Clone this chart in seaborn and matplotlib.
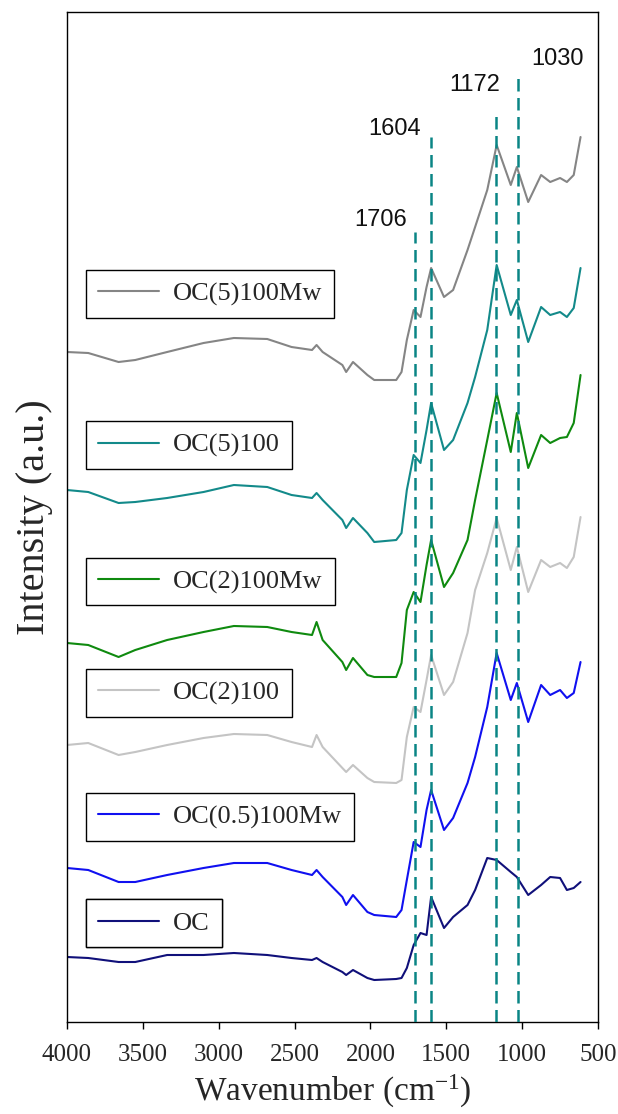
import numpy as np
import pandas as pd
import seaborn as sns
import matplotlib
matplotlib.use("Agg")
import matplotlib.pyplot as plt

# ---------------- data ----------------
wavenumber = [4000, 3860, 3660, 3550, 3340, 3100, 2900, 2680, 2520, 2385, 2355, 2315,
              2185, 2160, 2115, 2020, 1975, 1830, 1795, 1760, 1715, 1670, 1630, 1600,
              1515, 1455, 1360, 1310, 1230, 1168, 1075, 1035, 960, 875, 815, 750,
              705, 660, 615]

oc5_100mw = [6.70, 6.69, 6.60, 6.62, 6.70, 6.79, 6.84, 6.83, 6.75, 6.72, 6.77, 6.70,
             6.57, 6.50, 6.60, 6.47, 6.42, 6.42, 6.50, 6.82, 7.12, 7.05, 7.35, 7.54,
             7.25, 7.32, 7.72, 7.95, 8.32, 8.77, 8.37, 8.55, 8.20, 8.47, 8.40, 8.44,
             8.40, 8.47, 8.85]

oc5_100 = [5.32, 5.30, 5.19, 5.20, 5.24, 5.30, 5.37, 5.35, 5.27, 5.24, 5.29, 5.22,
           5.02, 4.94, 5.04, 4.89, 4.80, 4.82, 4.89, 5.32, 5.67, 5.59, 5.92, 6.19,
           5.72, 5.82, 6.19, 6.45, 6.92, 7.57, 7.07, 7.22, 6.80, 7.15, 7.07, 7.10,
           7.05, 7.14, 7.54]

oc2_100mw = [3.79, 3.77, 3.65, 3.72, 3.82, 3.90, 3.96, 3.95, 3.90, 3.87, 4.00, 3.82,
             3.60, 3.52, 3.64, 3.47, 3.45, 3.45, 3.59, 4.12, 4.30, 4.20, 4.57, 4.82,
             4.35, 4.49, 4.82, 5.22, 5.82, 6.29, 5.70, 6.09, 5.54, 5.87, 5.79, 5.84,
             5.85, 5.99, 6.47]

oc2_100 = [2.77, 2.79, 2.67, 2.70, 2.77, 2.84, 2.88, 2.87, 2.80, 2.75, 2.87, 2.75,
           2.54, 2.50, 2.57, 2.44, 2.40, 2.39, 2.42, 2.85, 3.15, 3.10, 3.42, 3.67,
           3.27, 3.40, 3.89, 4.32, 4.69, 5.04, 4.52, 4.75, 4.30, 4.62, 4.55, 4.59,
           4.54, 4.65, 5.05]

oc05_100mw = [1.54, 1.52, 1.40, 1.40, 1.47, 1.54, 1.59, 1.59, 1.52, 1.47, 1.52, 1.45,
              1.25, 1.17, 1.27, 1.10, 1.07, 1.05, 1.12, 1.42, 1.80, 1.75, 2.12, 2.32,
              1.92, 2.04, 2.39, 2.65, 3.15, 3.69, 3.22, 3.39, 3.00, 3.37, 3.27, 3.32,
              3.24, 3.29, 3.60]

oc = [0.65, 0.64, 0.60, 0.60, 0.67, 0.67, 0.69, 0.67, 0.64, 0.62, 0.64, 0.60,
      0.50, 0.47, 0.52, 0.44, 0.42, 0.43, 0.44, 0.54, 0.77, 0.89, 0.87, 1.25,
      0.94, 1.05, 1.17, 1.32, 1.64, 1.62, 1.50, 1.45, 1.27, 1.37, 1.45, 1.44,
      1.32, 1.34, 1.40]

series_names = ["OC(5)100Mw", "OC(5)100", "OC(2)100Mw", "OC(2)100", "OC(0.5)100Mw", "OC"]
series_values = [oc5_100mw, oc5_100, oc2_100mw, oc2_100, oc05_100mw, oc]
series_colors = ["#858585", "#138a8a", "#0f8a0f", "#c4c4c4", "#1010f0", "#10107a"]

peak_positions = [1706, 1604, 1172, 1030]
peak_labels = ["1706", "1604", "1172", "1030"]
peak_line_tops = [7.90, 8.85, 9.09, 9.49]
peak_label_x = [1934, 1838, 1310, 767]
peak_label_y = [8.02, 8.93, 9.37, 9.63]

legend_y = [0.721, 0.571, 0.436, 0.326, 0.203, 0.098]

x_ticks = [4000, 3500, 3000, 2500, 2000, 1500, 1000, 500]

# ---------------- plot ----------------
sns.set_theme(style="white")
plt.rcParams["font.family"] = ["Liberation Serif", "DejaVu Serif"]
plt.rcParams["mathtext.fontset"] = "custom"
plt.rcParams["mathtext.rm"] = "Liberation Serif"
plt.rcParams["mathtext.it"] = "Liberation Serif"

fig = plt.figure(figsize=(6.18, 11.14), dpi=100)
ax = fig.add_axes([67 / 618, 92 / 1114, 531 / 618, 1010 / 1114])

frames = []
for name, vals in zip(series_names, series_values):
    frames.append(pd.DataFrame({"wavenumber": wavenumber, "intensity": vals, "sample": name}))
df = pd.concat(frames, ignore_index=True)

handles = []
for name, color in zip(series_names, series_colors):
    sub = df[df["sample"] == name]
    sns.lineplot(data=sub, x="wavenumber", y="intensity", color=color, lw=1.5,
                 ax=ax, sort=False, estimator=None)
    handles.append(ax.lines[-1])

# dashed peak markers
for pos, top in zip(peak_positions, peak_line_tops):
    ax.plot([pos, pos], [0, top], color="#0a8585", lw=1.8, ls=(0, (5, 2.6)), zorder=3)
for lbl, lx, ly in zip(peak_labels, peak_label_x, peak_label_y):
    ax.text(lx, ly, lbl, ha="center", va="center", fontsize=17,
            family=["Liberation Sans", "DejaVu Sans"], color="#111111")

ax.set_xlim(4000, 500)
ax.set_ylim(0, 10.10)
ax.set_xticks(x_ticks)
ax.set_xticklabels([str(t) for t in x_ticks], fontsize=18)
ax.set_yticks([])
ax.tick_params(axis="x", direction="out", length=5, width=1, color="black", pad=11,
               bottom=True)
for s in ax.spines.values():
    s.set_color("black")
    s.set_linewidth(1.0)
ax.set_xlabel("Wavenumber (cm$^{\\mathregular{-1}}$)", fontsize=24, labelpad=5)
ax.set_ylabel("Intensity (a.u.)", fontsize=29, labelpad=10)

# individual legend boxes
for h, name, yc in zip(handles, series_names, legend_y):
    leg = ax.legend(handles=[h], labels=[name], loc="center left",
                    bbox_to_anchor=(0.036, yc), fontsize=19, frameon=True,
                    fancybox=False, framealpha=1, edgecolor="black",
                    borderpad=0.45, handlelength=2.3, handletextpad=0.55,
                    borderaxespad=0)
    leg.get_frame().set_linewidth(1.0)
    ax.add_artist(leg)

fig.savefig("out.png", dpi=100)
